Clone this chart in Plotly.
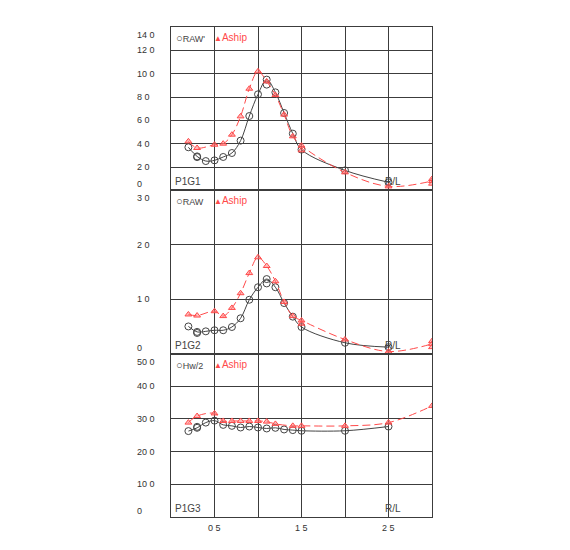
import plotly.graph_objects as go

# R/L stations
rl_raw = [0.2, 0.3, 0.4, 0.5, 0.6, 0.7, 0.8, 0.9, 1.0, 1.1, 1.2, 1.3, 1.4, 1.5, 2.0, 2.5]
rl_ash = [0.2, 0.3, 0.5, 0.6, 0.7, 0.8, 0.9, 1.0, 1.1, 1.2, 1.3, 1.4, 1.5, 2.0, 2.5, 3.0]
rl_ash3 = [0.2, 0.3, 0.5, 0.6, 0.7, 0.8, 0.9, 1.0, 1.1, 1.2, 1.4, 1.5, 2.0, 2.5, 3.0]

# P1G1
g1_raw = [3.69, 2.91, 2.51, 2.57, 2.86, 3.2, 4.26, 6.37, 8.23, 9.49, 8.4, 6.63, 4.86, 3.49, 1.71, 0.69]
g1_ash = [4.2, 3.63, 3.91, 4.0, 4.77, 6.34, 8.71, 10.2, 9.34, 8.17, 6.49, 4.63, 3.83, 1.54, 0.34, 0.8]
g1_raw_x2, g1_raw_y2 = [0.3, 1.1], [2.85, 9.06]
g1_ash_x2, g1_ash_y2 = [1.5, 3.0, 3.0], [3.43, 0.97, 0.57]

# P1G2
g2_raw = [0.5, 0.4, 0.41, 0.43, 0.43, 0.49, 0.65, 0.99, 1.22, 1.37, 1.22, 0.93, 0.68, 0.49, 0.2, 0.12]
g2_ash = [0.72, 0.7, 0.78, 0.69, 0.84, 1.11, 1.48, 1.77, 1.61, 1.33, 0.95, 0.69, 0.61, 0.26, 0.04, 0.18]
g2_raw_x2, g2_raw_y2 = [0.3, 1.1], [0.38, 1.29]
g2_ash_x2, g2_ash_y2 = [1.5, 3.0, 3.0], [0.55, 0.23, 0.12]

# P1G3
g3_raw = [26.3, 27.3, 28.9, 29.5, 28.2, 27.9, 27.4, 27.7, 27.4, 27.1, 27.3, 26.8, 26.6, 26.4, 26.4, 27.7]
g3_ash = [28.9, 30.9, 31.7, 29.4, 29.4, 29.4, 29.4, 29.4, 29.2, 28.5, 27.9, 27.9, 27.9, 28.9, 34.0]
g3_raw_x2, g3_raw_y2 = [0.3], [27.6]

y_ticks = [
    [0, 2, 4, 6, 8, 10, 12, 14],
    [0, 1, 2, 3],
    [0, 10, 20, 30, 40, 50],
]
y_ticktext = [
    ["0", "2 0", "4 0", "6 0", "8 0", "10 0", "12 0", "14 0"],
    ["0", "1 0", "2 0", "3 0"],
    ["0", "10 0", "20 0", "30 0", "40 0", "50 0"],
]
panel_names = ["P1G1", "P1G2", "P1G3"]
raw_names = ["RAW'", "RAW", "Hw/2"]
x_ticks = [0.5, 1.5, 2.5]
x_ticktext = ["0 5", "1 5", "2 5"]

GRAY = "#444444"
GRID = "#3c3c3c"
RED = "#ff4a4a"
FONT = "Liberation Sans"

panels = [
    (rl_raw, g1_raw, g1_raw_x2, g1_raw_y2, rl_ash, g1_ash, g1_ash_x2, g1_ash_y2),
    (rl_raw, g2_raw, g2_raw_x2, g2_raw_y2, rl_ash, g2_ash, g2_ash_x2, g2_ash_y2),
    (rl_raw, g3_raw, g3_raw_x2, g3_raw_y2, rl_ash3, g3_ash, [], []),
]

circle = dict(symbol="circle-open", size=7, color="#444444", line=dict(width=1))
tri = dict(symbol="triangle-up", size=6, color="rgba(255,120,120,0.5)",
           line=dict(width=1, color=RED))

fig = go.Figure()
annotations = []
domains = [[2 / 3, 1.0], [1 / 3, 2 / 3], [0.0, 1 / 3]]

for i, (xr, yr, xr2, yr2, xa, ya, xa2, ya2) in enumerate(panels):
    n = "" if i == 0 else str(i + 1)
    xref, yref = "x" + n, "y" + n
    fig.add_trace(go.Scatter(
        x=xr, y=yr, xaxis=xref, yaxis=yref, mode="lines+markers",
        line=dict(color=GRAY, width=1, shape="spline", smoothing=1.0),
        marker=circle,
    ))
    if xr2:
        fig.add_trace(go.Scatter(
            x=xr2, y=yr2, xaxis=xref, yaxis=yref, mode="markers", marker=circle,
        ))
    fig.add_trace(go.Scatter(
        x=xa, y=ya, xaxis=xref, yaxis=yref, mode="lines+markers",
        line=dict(color=RED, width=1, dash="8px,4px", shape="spline", smoothing=1.0),
        marker=tri,
    ))
    if xa2:
        fig.add_trace(go.Scatter(
            x=xa2, y=ya2, xaxis=xref, yaxis=yref, mode="markers", marker=tri,
        ))

    ymax = y_ticks[i][-1]
    fig.update_layout({
        "xaxis" + n: dict(
            domain=[0, 1], range=[0, 3], anchor=yref,
            tickvals=[0.5, 1.0, 1.5, 2.0, 2.5],
            showticklabels=False, ticks="",
            showgrid=True, gridcolor=GRID, gridwidth=1, zeroline=False,
            showline=True, linecolor=GRID, linewidth=1, mirror=True,
        ),
        "yaxis" + n: dict(
            domain=domains[i], range=[0, ymax], anchor=xref,
            tickvals=y_ticks[i], showticklabels=False, ticks="",
            showgrid=True, gridcolor=GRID, gridwidth=1, zeroline=False,
            showline=True, linecolor=GRID, linewidth=1, mirror=True,
        ),
    })

    # y tick labels
    for v, t in zip(y_ticks[i], y_ticktext[i]):
        shift = 0
        if v == ymax:
            shift = -8
        elif v == 0:
            shift = 6
        annotations.append(dict(
            x=-0.138, xref="paper", y=v, yref=yref, text=t, showarrow=False,
            xanchor="left", yanchor="middle", yshift=shift,
            font=dict(family=FONT, size=9, color="#333333"),
        ))

    # in-panel legend
    annotations.append(dict(
        x=0.01, xref="x domain", y=1, yref="y" + n + " domain", yshift=-3,
        text="<span style='font-size:11px'>○</span>" + raw_names[i],
        showarrow=False, xanchor="left", yanchor="top",
        font=dict(family=FONT, size=9, color="#444444"),
    ))
    annotations.append(dict(
        x=0.5, xref=xref, y=1, yref="y" + n + " domain", yshift=-3, xshift=-3,
        text="<span style='font-size:8px'>▲</span>Aship", showarrow=False,
        xanchor="left", yanchor="top",
        font=dict(family=FONT, size=10, color=RED),
    ))
    # panel name
    annotations.append(dict(
        x=0.008, xref="x domain", y=0, yref="y" + n + " domain", yshift=1,
        text=panel_names[i], showarrow=False, xanchor="left", yanchor="bottom",
        font=dict(family=FONT, size=10, color="#444444"),
    ))
    # R/L label
    annotations.append(dict(
        x=2.44, xref=xref, y=0, yref="y" + n + " domain", yshift=1,
        text="R/L", showarrow=False, xanchor="left", yanchor="bottom",
        font=dict(family=FONT, size=10, color="#444444"),
    ))

# bottom x tick labels
for v, t in zip(x_ticks, x_ticktext):
    annotations.append(dict(
        x=v, xref="x3", y=0, yref="y3 domain", yshift=-4, text=t,
        showarrow=False, xanchor="center", yanchor="top",
        font=dict(family=FONT, size=9, color="#333333"),
    ))

fig.update_layout(
    width=570, height=550,
    margin=dict(l=163, r=146, t=19, b=41),
    paper_bgcolor="white", plot_bgcolor="white",
    showlegend=False,
    annotations=annotations,
)

fig.write_html("out.html")
